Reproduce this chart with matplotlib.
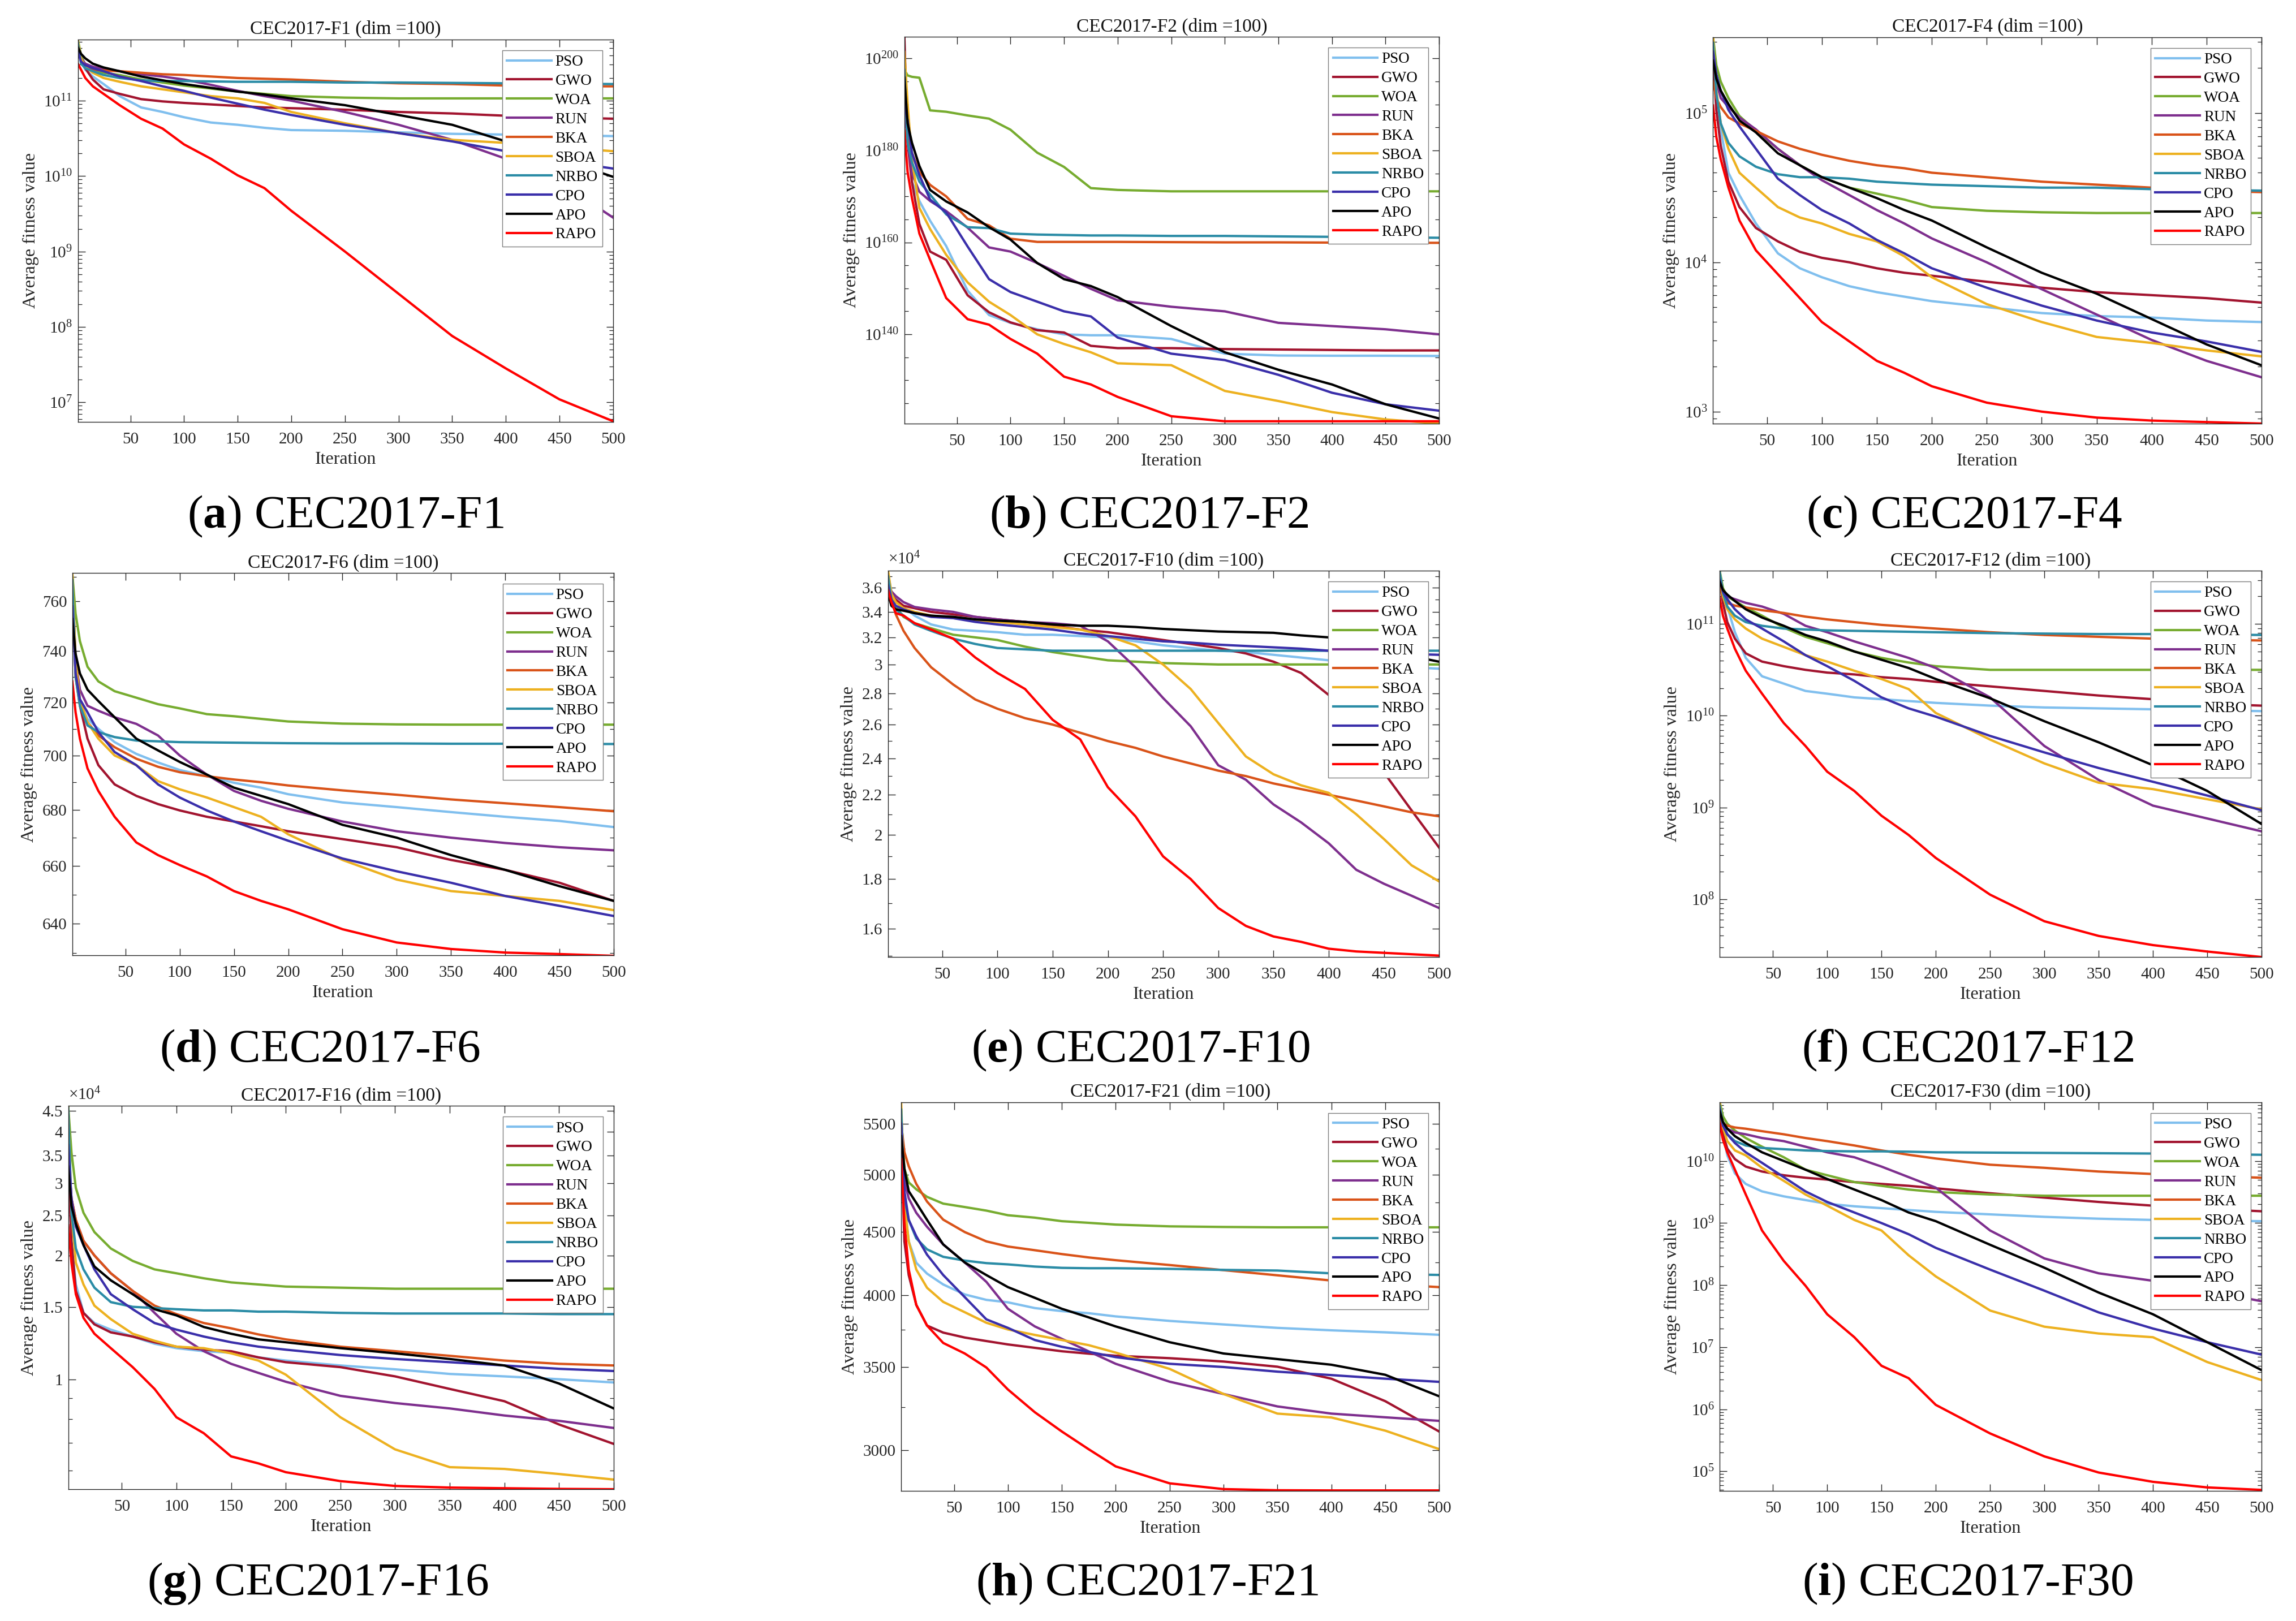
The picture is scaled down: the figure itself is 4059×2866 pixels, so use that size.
import numpy as np
import matplotlib
matplotlib.use('Agg')
import matplotlib.pyplot as plt
from matplotlib.ticker import FixedLocator, FixedFormatter, NullFormatter

plt.rcParams['font.family'] = ['Liberation Serif', 'DejaVu Serif']
plt.rcParams['mathtext.fontset'] = 'custom'
plt.rcParams['mathtext.rm'] = 'Liberation Serif'
plt.rcParams['mathtext.it'] = 'Liberation Serif:italic'
plt.rcParams['mathtext.bf'] = 'Liberation Serif:bold'

ALGS = ['PSO', 'GWO', 'WOA', 'RUN', 'BKA', 'SBOA', 'NRBO', 'CPO', 'APO', 'RAPO']
COLORS = ['#80BFEE', '#A2142F', '#77AC30', '#7E2F8E', '#D95319',
          '#EDB120', '#2B8CA6', '#3A2FAA', '#000000', '#FF0000']

IT = [1, 4, 8, 15, 25, 40, 60, 80, 100, 125, 150, 175, 200, 250, 300, 350, 400, 450, 500]
IT10 = [1, 4, 8, 15, 25, 40, 60, 80, 100, 125, 150, 175, 200, 225, 250, 275, 300,
        325, 350, 375, 400, 425, 450, 475, 500]

# ---- CEC2017-F1 (log10 of average fitness) ----
F1_LOG10 = {
    'PSO':  [11.77, 11.52, 11.41, 11.32, 11.22, 11.06, 10.91, 10.85, 10.78, 10.71, 10.68, 10.64, 10.61, 10.60, 10.58, 10.56, 10.55, 10.54, 10.53],
    'GWO':  [11.77, 11.58, 11.43, 11.28, 11.15, 11.09, 11.02, 10.99, 10.97, 10.95, 10.93, 10.91, 10.90, 10.88, 10.85, 10.83, 10.80, 10.78, 10.76],
    'WOA':  [11.81, 11.60, 11.47, 11.41, 11.37, 11.34, 11.28, 11.24, 11.20, 11.16, 11.12, 11.09, 11.06, 11.04, 11.03, 11.03, 11.03, 11.03, 11.03],
    'RUN':  [11.69, 11.56, 11.49, 11.45, 11.42, 11.39, 11.35, 11.32, 11.28, 11.21, 11.13, 11.06, 11.00, 10.85, 10.68, 10.48, 10.23, 9.92, 9.45],
    'BKA':  [11.69, 11.54, 11.45, 11.41, 11.40, 11.39, 11.37, 11.35, 11.34, 11.32, 11.30, 11.29, 11.28, 11.25, 11.23, 11.22, 11.20, 11.19, 11.19],
    'SBOA': [11.80, 11.56, 11.45, 11.37, 11.30, 11.25, 11.19, 11.15, 11.11, 11.06, 11.03, 10.97, 10.85, 10.70, 10.57, 10.48, 10.44, 10.38, 10.33],
    'NRBO': [11.77, 11.49, 11.43, 11.39, 11.34, 11.30, 11.27, 11.26, 11.26, 11.255, 11.25, 11.25, 11.25, 11.24, 11.24, 11.235, 11.23, 11.225, 11.22],
    'CPO':  [11.65, 11.52, 11.47, 11.43, 11.39, 11.32, 11.26, 11.19, 11.13, 11.04, 10.96, 10.88, 10.81, 10.68, 10.57, 10.46, 10.33, 10.20, 10.10],
    'APO':  [11.71, 11.62, 11.56, 11.49, 11.44, 11.39, 11.32, 11.27, 11.22, 11.17, 11.12, 11.08, 11.03, 10.94, 10.81, 10.68, 10.46, 10.23, 9.99],
    'RAPO': [11.49, 11.41, 11.30, 11.19, 11.09, 10.94, 10.76, 10.63, 10.42, 10.23, 10.01, 9.84, 9.54, 9.00, 8.44, 7.88, 7.45, 7.04, 6.75],
}

# ---- CEC2017-F2 (log10) ----
F2_LOG10 = {
    'PSO':  [194.4, 184.5, 173.2, 169.0, 164.7, 159.2, 149.5, 144.2, 142.5, 141.1, 140.0, 139.8, 139.8, 139.0, 135.8, 135.4, 135.35, 135.35, 135.3],
    'GWO':  [204.6, 181.7, 173.2, 164.0, 158.0, 156.2, 148.5, 144.8, 142.6, 140.9, 140.4, 137.5, 137.0, 137.0, 136.8, 136.7, 136.6, 136.5, 136.5],
    'WOA':  [197.5, 196.3, 196.0, 195.8, 188.7, 188.4, 187.6, 186.9, 184.5, 179.5, 176.4, 171.8, 171.4, 171.1, 171.1, 171.1, 171.1, 171.1, 171.1],
    'RUN':  [189.4, 182.0, 175.0, 171.0, 169.0, 166.8, 163.2, 158.9, 158.0, 155.5, 152.7, 149.9, 147.4, 146.0, 145.0, 142.5, 141.8, 141.1, 140.0],
    'BKA':  [184.5, 182.4, 179.5, 175.3, 172.5, 170.0, 165.1, 163.7, 160.8, 160.1, 160.1, 160.1, 160.1, 160.05, 160.0, 160.0, 159.95, 159.9, 159.9],
    'SBOA': [201.4, 190.1, 178.1, 167.5, 162.9, 157.3, 151.3, 147.1, 144.2, 140.0, 137.9, 136.1, 133.7, 133.3, 127.7, 125.5, 123.1, 121.5, 120.6],
    'NRBO': [197.5, 181.7, 177.4, 173.2, 170.4, 166.1, 163.3, 163.1, 161.9, 161.7, 161.6, 161.5, 161.5, 161.4, 161.4, 161.3, 161.2, 161.1, 161.0],
    'CPO':  [190.1, 186.6, 179.5, 174.6, 169.3, 166.5, 159.1, 152.0, 149.2, 147.1, 145.0, 143.9, 139.3, 135.8, 134.4, 131.2, 127.3, 124.8, 123.4],
    'APO':  [195.8, 185.9, 181.7, 176.6, 171.4, 168.9, 166.5, 163.3, 160.6, 155.5, 152.0, 150.5, 148.1, 141.8, 136.1, 132.3, 129.1, 124.8, 121.7],
    'RAPO': [184.1, 175.3, 169.7, 161.9, 156.2, 147.9, 143.3, 142.1, 139.0, 135.8, 130.8, 129.1, 126.4, 122.2, 121.1, 121.1, 121.1, 121.1, 121.1],
}

# ---- CEC2017-F4 (log10) ----
F4_LOG10 = {
    'PSO':  [5.32, 5.10, 4.89, 4.60, 4.45, 4.26, 4.06, 3.96, 3.90, 3.84, 3.80, 3.77, 3.74, 3.70, 3.66, 3.64, 3.63, 3.61, 3.60],
    'GWO':  [5.37, 5.02, 4.78, 4.54, 4.37, 4.23, 4.14, 4.07, 4.03, 4.00, 3.96, 3.93, 3.91, 3.87, 3.83, 3.80, 3.78, 3.76, 3.73],
    'WOA':  [5.51, 5.32, 5.21, 5.10, 4.98, 4.88, 4.76, 4.65, 4.57, 4.50, 4.46, 4.42, 4.37, 4.345, 4.335, 4.33, 4.33, 4.33, 4.33],
    'RUN':  [5.40, 5.21, 5.10, 5.04, 4.97, 4.89, 4.76, 4.65, 4.55, 4.45, 4.35, 4.26, 4.16, 4.00, 3.82, 3.65, 3.48, 3.34, 3.23],
    'BKA':  [5.21, 5.10, 5.04, 4.97, 4.93, 4.88, 4.81, 4.76, 4.72, 4.68, 4.65, 4.63, 4.60, 4.57, 4.54, 4.52, 4.50, 4.48, 4.47],
    'SBOA': [5.51, 5.15, 4.93, 4.76, 4.60, 4.50, 4.37, 4.30, 4.26, 4.19, 4.14, 4.04, 3.90, 3.72, 3.60, 3.50, 3.46, 3.41, 3.37],
    'NRBO': [5.47, 5.13, 4.93, 4.80, 4.71, 4.64, 4.59, 4.57, 4.57, 4.56, 4.54, 4.53, 4.52, 4.51, 4.50, 4.50, 4.49, 4.485, 4.48],
    'CPO':  [5.41, 5.26, 5.15, 5.02, 4.91, 4.76, 4.56, 4.45, 4.35, 4.26, 4.15, 4.06, 3.96, 3.83, 3.71, 3.61, 3.53, 3.47, 3.40],
    'APO':  [5.35, 5.23, 5.15, 5.06, 4.95, 4.87, 4.73, 4.65, 4.57, 4.50, 4.43, 4.35, 4.28, 4.10, 3.93, 3.79, 3.62, 3.45, 3.31],
    'RAPO': [5.05, 4.84, 4.69, 4.50, 4.28, 4.08, 3.92, 3.76, 3.60, 3.47, 3.34, 3.26, 3.17, 3.06, 3.00, 2.96, 2.94, 2.93, 2.92],
}

# ---- CEC2017-F6 (average fitness) ----
F6_VAL = {
    'PSO':  [768, 736.5, 720, 713.8, 710, 705, 700.6, 697.4, 694.6, 692.3, 689.9, 688.1, 685.7, 682.7, 681.0, 679.2, 677.5, 676.0, 673.8],
    'GWO':  [770, 736.5, 718.8, 706.3, 696.4, 689.3, 685.1, 682.1, 679.8, 677.5, 675.8, 674.1, 672.3, 669.5, 666.6, 662.1, 658.6, 654.1, 647.8],
    'WOA':  [771, 755, 744, 733.9, 728.2, 724.4, 721.9, 719.4, 717.8, 715.6, 714.8, 713.8, 712.8, 712.0, 711.7, 711.6, 711.6, 711.6, 711.6],
    'RUN':  [757.9, 736.5, 725, 718.8, 716.9, 714.4, 711.9, 707.5, 700, 692.9, 686.9, 683.3, 680.4, 675.8, 672.3, 670, 668.1, 666.6, 665.5],
    'BKA':  [768, 730, 718.8, 712.5, 707.5, 703.1, 698.8, 695.8, 693.8, 692.3, 691.1, 690.1, 688.9, 687.1, 685.5, 683.8, 682.4, 681, 679.5],
    'SBOA': [771, 736.5, 721.3, 712.5, 706.3, 700.0, 696.4, 690.5, 687.5, 684.5, 681.0, 677.5, 671.2, 662.1, 655.2, 651.2, 649.5, 647.8, 644.6],
    'NRBO': [768.6, 730, 718.8, 711.3, 708.8, 706.9, 705.6, 705.3, 705, 704.9, 704.8, 704.7, 704.6, 704.5, 704.5, 704.4, 704.4, 704.3, 704.3],
    'CPO':  [757.9, 731.5, 721.3, 716.3, 708.8, 701.3, 696.4, 689.3, 684.5, 679.8, 675.8, 672.3, 668.9, 662.6, 658.1, 654.1, 649.5, 646.1, 642.6],
    'APO':  [752.8, 739, 731.3, 725, 720.6, 714.4, 706.3, 701.9, 697.6, 692.9, 688.1, 685.1, 682.1, 674.6, 670, 663.8, 658.6, 652.9, 647.8],
    'RAPO': [728.2, 716.3, 706.3, 695.2, 686.9, 677.5, 668.3, 663.8, 660.3, 656.3, 651.2, 647.8, 644.9, 638.1, 633.6, 631.4, 630.2, 629.7, 629.1],
}

# ---- CEC2017-F10 (average fitness, x 10^4) ----
F10_VAL = {
    'PSO':  [3.72, 3.57, 3.51, 3.44, 3.37, 3.30, 3.26, 3.25, 3.24, 3.22, 3.22, 3.21, 3.20, 3.17, 3.14, 3.12, 3.10, 3.09, 3.07, 3.05, 3.03, 3.01, 2.99, 2.98, 2.97],
    'GWO':  [3.59, 3.54, 3.50, 3.45, 3.43, 3.40, 3.38, 3.36, 3.34, 3.32, 3.29, 3.26, 3.24, 3.21, 3.18, 3.15, 3.12, 3.08, 3.02, 2.94, 2.79, 2.60, 2.32, 2.12, 1.94],
    'WOA':  [3.70, 3.53, 3.44, 3.36, 3.31, 3.27, 3.22, 3.20, 3.18, 3.13, 3.09, 3.06, 3.03, 3.02, 3.01, 3.005, 3.0, 3.0, 3.0, 3.0, 3.0, 3.0, 3.0, 3.0, 3.0],
    'RUN':  [3.63, 3.57, 3.53, 3.48, 3.44, 3.42, 3.40, 3.36, 3.34, 3.32, 3.31, 3.29, 3.17, 2.98, 2.77, 2.59, 2.36, 2.28, 2.15, 2.06, 1.96, 1.84, 1.78, 1.73, 1.68],
    'BKA':  [3.62, 3.50, 3.38, 3.25, 3.12, 2.98, 2.86, 2.76, 2.70, 2.64, 2.60, 2.55, 2.50, 2.46, 2.41, 2.37, 2.33, 2.30, 2.26, 2.23, 2.20, 2.17, 2.14, 2.11, 2.09],
    'SBOA': [3.75, 3.55, 3.48, 3.43, 3.40, 3.37, 3.35, 3.33, 3.32, 3.30, 3.28, 3.26, 3.21, 3.14, 3.00, 2.83, 2.61, 2.41, 2.31, 2.25, 2.21, 2.10, 1.98, 1.86, 1.79],
    'NRBO': [3.70, 3.50, 3.42, 3.37, 3.30, 3.25, 3.19, 3.15, 3.12, 3.11, 3.10, 3.10, 3.10, 3.10, 3.10, 3.10, 3.10, 3.10, 3.10, 3.10, 3.10, 3.10, 3.10, 3.10, 3.10],
    'CPO':  [3.62, 3.50, 3.45, 3.42, 3.39, 3.36, 3.35, 3.32, 3.30, 3.28, 3.26, 3.23, 3.21, 3.19, 3.17, 3.16, 3.145, 3.135, 3.125, 3.115, 3.10, 3.09, 3.08, 3.075, 3.07],
    'APO':  [3.55, 3.45, 3.42, 3.41, 3.39, 3.37, 3.36, 3.34, 3.33, 3.32, 3.30, 3.29, 3.29, 3.28, 3.265, 3.255, 3.245, 3.24, 3.235, 3.215, 3.20, 3.17, 3.13, 3.06, 3.02],
    'RAPO': [3.58, 3.48, 3.39, 3.37, 3.31, 3.26, 3.19, 3.05, 2.94, 2.83, 2.63, 2.51, 2.24, 2.09, 1.90, 1.80, 1.68, 1.61, 1.57, 1.55, 1.525, 1.515, 1.51, 1.505, 1.50],
}

# ---- CEC2017-F12 (log10) ----
F12_LOG10 = {
    'PSO':  [11.48, 11.30, 11.19, 10.91, 10.63, 10.43, 10.35, 10.27, 10.24, 10.20, 10.18, 10.16, 10.14, 10.11, 10.09, 10.08, 10.07, 10.06, 10.05],
    'GWO':  [11.48, 11.23, 11.02, 10.84, 10.68, 10.59, 10.54, 10.50, 10.47, 10.45, 10.42, 10.40, 10.37, 10.32, 10.27, 10.22, 10.18, 10.13, 10.11],
    'WOA':  [11.58, 11.39, 11.30, 11.25, 11.18, 11.09, 10.96, 10.86, 10.79, 10.70, 10.63, 10.58, 10.54, 10.50, 10.50, 10.50, 10.50, 10.50, 10.50],
    'RUN':  [11.50, 11.35, 11.30, 11.27, 11.23, 11.19, 11.11, 10.98, 10.91, 10.81, 10.72, 10.63, 10.52, 10.20, 9.67, 9.30, 9.02, 8.88, 8.74],
    'BKA':  [11.41, 11.30, 11.23, 11.20, 11.18, 11.15, 11.12, 11.08, 11.05, 11.02, 10.99, 10.97, 10.95, 10.91, 10.88, 10.86, 10.84, 10.83, 10.82],
    'SBOA': [11.58, 11.30, 11.16, 11.05, 10.95, 10.84, 10.75, 10.66, 10.59, 10.49, 10.40, 10.29, 10.03, 9.74, 9.48, 9.27, 9.20, 9.09, 8.98],
    'NRBO': [11.57, 11.34, 11.19, 11.09, 11.02, 10.98, 10.95, 10.94, 10.93, 10.925, 10.92, 10.915, 10.91, 10.90, 10.895, 10.89, 10.89, 10.885, 10.88],
    'CPO':  [11.48, 11.35, 11.27, 11.16, 11.05, 10.95, 10.81, 10.66, 10.54, 10.38, 10.20, 10.08, 9.99, 9.78, 9.60, 9.43, 9.28, 9.13, 8.97],
    'APO':  [11.46, 11.37, 11.32, 11.25, 11.16, 11.07, 10.98, 10.88, 10.81, 10.70, 10.61, 10.52, 10.40, 10.19, 9.94, 9.71, 9.46, 9.18, 8.82],
    'RAPO': [11.28, 11.09, 10.95, 10.73, 10.49, 10.24, 9.92, 9.67, 9.39, 9.18, 8.91, 8.70, 8.45, 8.05, 7.76, 7.60, 7.50, 7.43, 7.37],
}

# ---- CEC2017-F16 (average fitness, x 10^4) ----
F16_VAL = {
    'PSO':  [4.43, 2.17, 1.70, 1.45, 1.37, 1.32, 1.27, 1.22, 1.19, 1.17, 1.16, 1.13, 1.11, 1.08, 1.057, 1.03, 1.016, 1.0, 0.982],
    'GWO':  [3.29, 2.17, 1.64, 1.45, 1.36, 1.30, 1.27, 1.23, 1.20, 1.18, 1.17, 1.13, 1.10, 1.07, 1.016, 0.947, 0.884, 0.776, 0.696],
    'WOA':  [4.62, 3.56, 2.92, 2.54, 2.28, 2.08, 1.94, 1.85, 1.81, 1.76, 1.72, 1.70, 1.68, 1.67, 1.66, 1.66, 1.66, 1.66, 1.66],
    'RUN':  [3.56, 2.75, 2.44, 2.17, 2.00, 1.81, 1.64, 1.45, 1.29, 1.17, 1.09, 1.036, 0.986, 0.911, 0.875, 0.849, 0.816, 0.792, 0.761],
    'BKA':  [3.56, 2.75, 2.44, 2.17, 2.00, 1.81, 1.64, 1.51, 1.44, 1.37, 1.33, 1.285, 1.25, 1.20, 1.17, 1.14, 1.11, 1.09, 1.08],
    'SBOA': [4.62, 2.54, 1.92, 1.70, 1.51, 1.40, 1.29, 1.24, 1.20, 1.19, 1.156, 1.11, 1.026, 0.808, 0.675, 0.611, 0.605, 0.588, 0.57],
    'NRBO': [4.57, 2.54, 2.08, 1.85, 1.67, 1.54, 1.50, 1.49, 1.48, 1.47, 1.47, 1.46, 1.46, 1.45, 1.445, 1.445, 1.445, 1.44, 1.44],
    'CPO':  [3.71, 2.75, 2.35, 2.12, 1.85, 1.61, 1.48, 1.37, 1.32, 1.27, 1.23, 1.20, 1.18, 1.145, 1.12, 1.10, 1.08, 1.06, 1.047],
    'APO':  [3.29, 2.64, 2.39, 2.12, 1.88, 1.74, 1.61, 1.48, 1.43, 1.34, 1.29, 1.25, 1.23, 1.19, 1.156, 1.12, 1.08, 0.976, 0.849],
    'RAPO': [2.37, 1.92, 1.61, 1.41, 1.29, 1.19, 1.07, 0.947, 0.808, 0.739, 0.649, 0.624, 0.594, 0.565, 0.550, 0.545, 0.543, 0.541, 0.540],
}

# ---- CEC2017-F21 (average fitness) ----
F21_VAL = {
    'PSO':  [5575, 4748, 4420, 4248, 4163, 4080, 4005, 3965, 3947, 3905, 3883, 3868, 3845, 3813, 3788, 3764, 3747, 3733, 3716],
    'GWO':  [5290, 4420, 4152, 3928, 3780, 3731, 3697, 3673, 3650, 3627, 3604, 3588, 3574, 3558, 3536, 3502, 3425, 3285, 3105],
    'WOA':  [5575, 5058, 4932, 4869, 4801, 4741, 4711, 4680, 4640, 4619, 4589, 4575, 4560, 4545, 4540, 4537, 4537, 4537, 4537],
    'RUN':  [5575, 4948, 4787, 4661, 4541, 4395, 4250, 4100, 3900, 3774, 3688, 3603, 3521, 3406, 3329, 3253, 3210, 3188, 3167],
    'BKA':  [5500, 5218, 5082, 4918, 4759, 4602, 4497, 4420, 4378, 4348, 4317, 4290, 4268, 4230, 4190, 4150, 4110, 4083, 4060],
    'SBOA': [5723, 4748, 4420, 4195, 4055, 3950, 3875, 3800, 3753, 3715, 3680, 3645, 3595, 3488, 3329, 3210, 3187, 3110, 3005],
    'NRBO': [5645, 4787, 4600, 4445, 4355, 4295, 4265, 4245, 4235, 4218, 4208, 4205, 4205, 4200, 4192, 4187, 4165, 4160, 4153],
    'CPO':  [5500, 4852, 4600, 4463, 4312, 4152, 3985, 3824, 3764, 3680, 3634, 3600, 3565, 3521, 3500, 3470, 3448, 3425, 3405],
    'APO':  [5374, 5058, 4852, 4748, 4600, 4395, 4250, 4152, 4060, 3980, 3900, 3838, 3774, 3665, 3589, 3552, 3515, 3450, 3315],
    'RAPO': [5150, 4571, 4195, 3928, 3780, 3660, 3589, 3497, 3357, 3218, 3105, 3004, 2910, 2820, 2790, 2784, 2783, 2783, 2783],
}

# ---- CEC2017-F30 (log10) ----
F30_LOG10 = {
    'PSO':  [10.83, 10.43, 10.09, 9.80, 9.63, 9.51, 9.43, 9.37, 9.31, 9.27, 9.24, 9.21, 9.18, 9.14, 9.10, 9.07, 9.05, 9.04, 9.03],
    'GWO':  [10.83, 10.43, 10.20, 10.03, 9.91, 9.83, 9.77, 9.73, 9.70, 9.66, 9.63, 9.60, 9.56, 9.48, 9.41, 9.34, 9.28, 9.23, 9.19],
    'WOA':  [10.95, 10.72, 10.60, 10.49, 10.37, 10.23, 10.06, 9.86, 9.77, 9.66, 9.60, 9.54, 9.50, 9.46, 9.44, 9.44, 9.44, 9.44, 9.44],
    'RUN':  [10.77, 10.60, 10.52, 10.46, 10.43, 10.37, 10.32, 10.23, 10.14, 10.06, 9.91, 9.74, 9.57, 8.88, 8.43, 8.19, 8.07, 7.91, 7.74],
    'BKA':  [10.66, 10.60, 10.57, 10.54, 10.52, 10.48, 10.43, 10.37, 10.32, 10.25, 10.17, 10.10, 10.04, 9.94, 9.89, 9.83, 9.79, 9.76, 9.73],
    'SBOA': [10.95, 10.54, 10.32, 10.17, 10.09, 9.89, 9.68, 9.46, 9.28, 9.05, 8.88, 8.48, 8.14, 7.59, 7.33, 7.22, 7.16, 6.76, 6.47],
    'NRBO': [10.89, 10.60, 10.43, 10.32, 10.25, 10.21, 10.19, 10.17, 10.16, 10.155, 10.155, 10.15, 10.14, 10.135, 10.13, 10.125, 10.12, 10.11, 10.10],
    'CPO':  [10.83, 10.57, 10.43, 10.29, 10.14, 9.97, 9.74, 9.51, 9.34, 9.17, 9.00, 8.82, 8.60, 8.25, 7.91, 7.56, 7.30, 7.08, 6.88],
    'APO':  [10.80, 10.63, 10.52, 10.40, 10.29, 10.14, 10.00, 9.86, 9.71, 9.54, 9.37, 9.17, 9.03, 8.65, 8.28, 7.88, 7.53, 7.08, 6.63],
    'RAPO': [10.60, 10.34, 10.14, 9.86, 9.46, 8.88, 8.39, 7.99, 7.53, 7.16, 6.70, 6.50, 6.07, 5.61, 5.24, 4.98, 4.83, 4.74, 4.70],
}

XTICKS = [50, 100, 150, 200, 250, 300, 350, 400, 450, 500]
AX_COLOR = '#262626'
FS_TICK = 21
FS_LABEL = 23
FS_TITLE = 24
FS_LEG = 19.5
FS_CAP = 60


def std_log_minors(lo, hi):
    out = []
    for k in range(int(np.floor(lo)) - 1, int(np.ceil(hi)) + 1):
        for m in range(2, 10):
            v = m * 10.0 ** k
            if lo <= np.log10(v) <= hi:
                out.append(v)
    return out


def dec_labels(exps):
    return [10.0 ** e for e in exps], [r'$10^{%d}$' % e for e in exps]


panels = []
# (position, title, caption, caption x-shift, iterations, data, stored_as_log10, ylim, majors, labels, minors, offset)
m, l = dec_labels([7, 8, 9, 10, 11])
panels.append(([0.0339, 0.7397, 0.2331, 0.2359], 'CEC2017-F1 (dim =100)', ('a', 'CEC2017-F1'), 0.0,
               IT, F1_LOG10, True, (6.74, 11.81), m, l, std_log_minors(6.74, 11.81), None))
m, l = dec_labels([140, 160, 180, 200])
panels.append(([0.3939, 0.7387, 0.2329, 0.2386], 'CEC2017-F2 (dim =100)', ('b', 'CEC2017-F2'), -0.010,
               IT, F2_LOG10, True, (120.6, 204.7), m, l,
               [10.0 ** e for e in range(125, 205, 5) if e % 20 != 0], None))
m, l = dec_labels([3, 4, 5])
panels.append(([0.7461, 0.7387, 0.2389, 0.2383], 'CEC2017-F4 (dim =100)', ('c', 'CEC2017-F4'), -0.010,
               IT, F4_LOG10, True, (2.92, 5.507), m, l, std_log_minors(2.92, 5.507), None))
panels.append(([0.0315, 0.4107, 0.2358, 0.2358], 'CEC2017-F6 (dim =100)', ('d', 'CEC2017-F6'), -0.010,
               IT, F6_VAL, False, (629.3, 771.5), [640, 660, 680, 700, 720, 740, 760],
               ['640', '660', '680', '700', '720', '740', '760'],
               [630, 650, 670, 690, 710, 730, 750, 770], None))
panels.append(([0.3868, 0.4096, 0.2400, 0.2383], 'CEC2017-F10 (dim =100)', ('e', 'CEC2017-F10'), -0.010,
               IT10, F10_VAL, False, (1.495, 3.75),
               [1.6, 1.8, 2.0, 2.2, 2.4, 2.6, 2.8, 3.0, 3.2, 3.4, 3.6],
               ['1.6', '1.8', '2', '2.2', '2.4', '2.6', '2.8', '3', '3.2', '3.4', '3.6'],
               [1.5, 1.7, 1.9, 2.1, 2.3, 2.5, 2.7, 2.9, 3.1, 3.3, 3.5, 3.7], r'$\times10^{4}$'))
m, l = dec_labels([8, 9, 10, 11])
panels.append(([0.7490, 0.4096, 0.2360, 0.2383], 'CEC2017-F12 (dim =100)', ('f', 'CEC2017-F12'), -0.010,
               IT, F12_LOG10, True, (7.37, 11.58), m, l, std_log_minors(7.37, 11.58), None))
panels.append(([0.0297, 0.0813, 0.2376, 0.2364], 'CEC2017-F16 (dim =100)', ('g', 'CEC2017-F16'), -0.010,
               IT, F16_VAL, False, (0.54, 4.62), [1, 1.5, 2, 2.5, 3, 3.5, 4, 4.5],
               ['1', '1.5', '2', '2.5', '3', '3.5', '4', '4.5'],
               [0.6, 0.7, 0.8, 0.9], r'$\times10^{4}$'))
panels.append(([0.3925, 0.0803, 0.2343, 0.2397], 'CEC2017-F21 (dim =100)', ('h', 'CEC2017-F21'), -0.010,
               IT, F21_VAL, False, (2781, 5723), [3000, 3500, 4000, 4500, 5000, 5500],
               ['3000', '3500', '4000', '4500', '5000', '5500'],
               [3250, 3750, 4250, 4750, 5250], None))
m, l = dec_labels([5, 6, 7, 8, 9, 10])
panels.append(([0.7490, 0.0803, 0.2360, 0.2397], 'CEC2017-F30 (dim =100)', ('i', 'CEC2017-F30'), -0.010,
               IT, F30_LOG10, True, (4.685, 10.946), m, l, std_log_minors(4.685, 10.946), None))

fig = plt.figure(figsize=(40.59, 28.66), dpi=100)
cap_base = {0.7397: 0.6744, 0.7387: 0.6744, 0.4107: 0.3450, 0.4096: 0.3450,
            0.0813: 0.0160, 0.0803: 0.0160}

for pos, title, cap, cshift, its, data, is_log, ylim, majors, labels, minors, offset in panels:
    ax = fig.add_axes(pos)
    x = np.array(its, dtype=float)
    for alg, col in zip(ALGS, COLORS):
        y = np.array(data[alg], dtype=float)
        if is_log:
            y = 10.0 ** y
        ax.plot(x, y, color=col, lw=3.0, label=alg, solid_joinstyle='round')
    ax.set_yscale('log')
    if is_log:
        ax.set_ylim(10.0 ** ylim[0], 10.0 ** ylim[1])
    else:
        ax.set_ylim(*ylim)
    ax.set_xlim(1, 500)
    ax.set_xticks(XTICKS)
    ax.set_xticklabels([str(t) for t in XTICKS])
    ax.yaxis.set_major_locator(FixedLocator(majors))
    ax.yaxis.set_major_formatter(FixedFormatter(labels))
    ax.yaxis.set_minor_locator(FixedLocator(minors))
    ax.yaxis.set_minor_formatter(NullFormatter())
    ax.xaxis.set_minor_locator(FixedLocator([]))
    ax.tick_params(axis='both', which='major', direction='in', top=True, right=True,
                   length=9, width=1.0, color=AX_COLOR, labelsize=FS_TICK, labelcolor='#262626')
    ax.tick_params(axis='y', which='minor', direction='in', right=True, length=5, width=0.9,
                   color=AX_COLOR)
    ax.tick_params(axis='x', which='major', pad=13)
    ax.tick_params(axis='y', which='major', pad=7)
    for sp in ax.spines.values():
        sp.set_color(AX_COLOR)
        sp.set_linewidth(1.0)
    ax.set_title(title, fontsize=FS_TITLE, pad=7, color='#111111')
    ax.set_xlabel('Iteration', fontsize=FS_LABEL, labelpad=6, color='#262626')
    ax.set_ylabel('Average fitness value', fontsize=FS_LABEL, labelpad=6, color='#262626')
    if offset:
        ax.text(0.0, 1.008, offset, transform=ax.transAxes, ha='left', va='bottom',
                fontsize=FS_TICK, color='#262626')
    leg = ax.legend(loc='upper right', fontsize=FS_LEG, frameon=True, fancybox=False,
                    framealpha=1.0, edgecolor='#7f7f7f', borderaxespad=0.7,
                    handlelength=2.9, handletextpad=0.25, labelspacing=0.33,
                    borderpad=0.3)
    leg.get_frame().set_linewidth(1.0)
    cx = pos[0] + pos[2] / 2 + cshift
    fig.text(cx, cap_base[pos[1]], r'($\mathbf{%s}$) %s' % cap, ha='center', va='baseline',
             fontsize=FS_CAP, color='black')

fig.savefig('out.png', dpi=100, facecolor='white')
